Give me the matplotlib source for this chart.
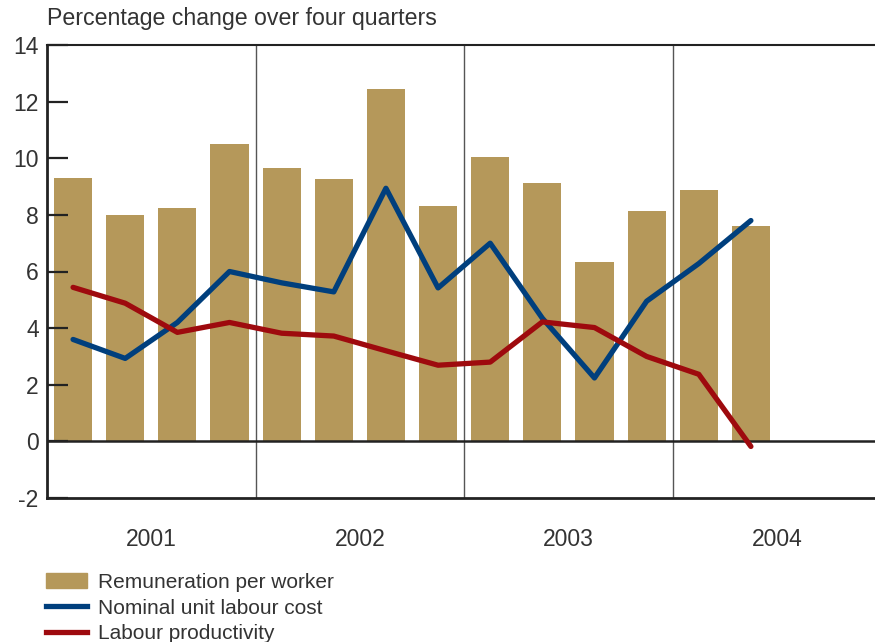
import numpy as np
import matplotlib.pyplot as plt
from matplotlib.patches import Patch
from matplotlib.lines import Line2D

plt.rcParams['font.family'] = ['Liberation Sans', 'DejaVu Sans']
plt.rcParams['axes.unicode_minus'] = False

years = ['2001', '2002', '2003', '2004']
# quarterly values, 2001Q1 .. 2004Q2
remuneration = [9.3, 8.0, 8.25, 10.5, 9.65, 9.25, 12.45, 8.3, 10.05, 9.12, 6.35, 8.15, 8.88, 7.62]
unit_labour_cost = [3.6, 2.93, 4.2, 6.0, 5.6, 5.28, 8.94, 5.42, 7.0, 4.35, 2.24, 4.95, 6.28, 7.8]
productivity = [5.44, 4.88, 3.85, 4.2, 3.82, 3.72, 3.2, 2.69, 2.8, 4.22, 4.02, 3.0, 2.37, -0.18]

gold = '#B5985A'
blue = '#003F7D'
red = '#9E0A0E'
txt = '#333333'

fig = plt.figure(figsize=(8.75, 6.42), dpi=100)
ax = fig.add_axes([47 / 875, 1 - 498 / 642, 1 - 47 / 875, (498 - 45) / 642])

x = np.arange(len(remuneration))
ax.bar(x, remuneration, width=0.73, color=gold, zorder=1)
ax.plot(x, unit_labour_cost, color=blue, lw=3.8, solid_capstyle='round', zorder=3)
ax.plot(x, productivity, color=red, lw=3.8, solid_capstyle='round', zorder=3)

for v in [3.5, 7.5, 11.5]:
    ax.axvline(v, color='#555555', lw=1, zorder=0)
ax.axhline(0, color='#222222', lw=1.8, zorder=2)

ax.set_xlim(-0.5, 15.38)
ax.set_ylim(-2, 14)
ax.set_yticks(range(-2, 15, 2))
ax.set_xticks([])
for i, y in enumerate(years):
    ax.text(1.5 + 4 * i, -3.45, y, ha='center', va='center', fontsize=16.5, color=txt)

ax.tick_params(axis='y', direction='in', length=15, width=1.6, color='#222222',
               labelsize=16.5, labelcolor=txt, pad=6)
for s in ['left', 'bottom', 'top']:
    ax.spines[s].set_color('#222222')
ax.spines['left'].set_linewidth(2)
ax.spines['bottom'].set_linewidth(2)
ax.spines['top'].set_linewidth(1.5)
ax.spines['right'].set_visible(False)

fig.text(47 / 875, 1 - 19 / 642, 'Percentage change over four quarters', ha='left', va='center',
         fontsize=16.7, color=txt)

handles = [Patch(color=gold), Line2D([], [], color=blue, lw=3.8), Line2D([], [], color=red, lw=3.8)]
labels = ['Remuneration per worker', 'Nominal unit labour cost', 'Labour productivity']
fig.legend(handles, labels, loc='upper left', bbox_to_anchor=(0.0526, 0.1075), frameon=False,
           fontsize=15, handlelength=1.95, handleheight=0.75, handletextpad=0.55, labelspacing=0.32,
           borderpad=0, borderaxespad=0, labelcolor=txt)

fig.savefig('out.png', dpi=100)
